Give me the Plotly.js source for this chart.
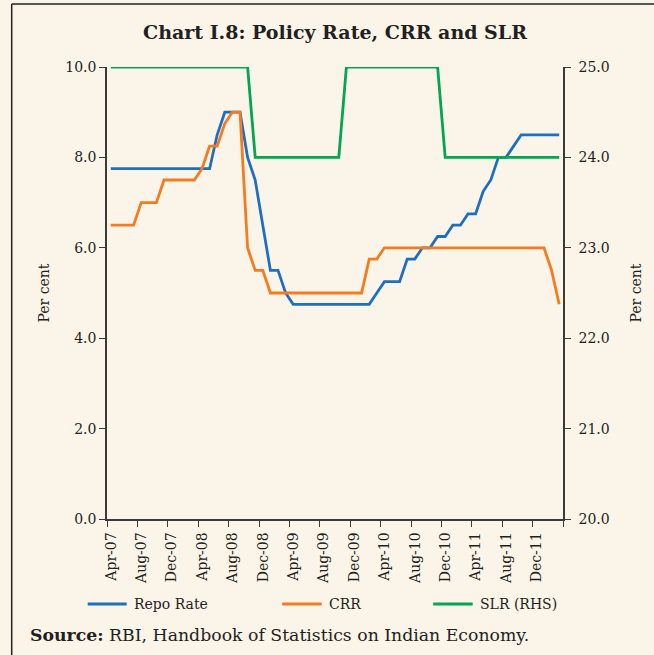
<!DOCTYPE html>
<html>
<head>
<meta charset="utf-8">
<script src="https://cdn.plot.ly/plotly-3.0.1.min.js"></script>
<style>
  html, body { margin: 0; padding: 0; background: #FBF4E9; }
  #chart { width: 654px; height: 655px; }
</style>
</head>
<body>
<div id="chart"></div>
<script>
// Months Apr-07 .. Mar-12
const months = [
  "Apr-07","May-07","Jun-07","Jul-07","Aug-07","Sep-07","Oct-07","Nov-07","Dec-07","Jan-08","Feb-08","Mar-08",
  "Apr-08","May-08","Jun-08","Jul-08","Aug-08","Sep-08","Oct-08","Nov-08","Dec-08","Jan-09","Feb-09","Mar-09",
  "Apr-09","May-09","Jun-09","Jul-09","Aug-09","Sep-09","Oct-09","Nov-09","Dec-09","Jan-10","Feb-10","Mar-10",
  "Apr-10","May-10","Jun-10","Jul-10","Aug-10","Sep-10","Oct-10","Nov-10","Dec-10","Jan-11","Feb-11","Mar-11",
  "Apr-11","May-11","Jun-11","Jul-11","Aug-11","Sep-11","Oct-11","Nov-11","Dec-11","Jan-12","Feb-12","Mar-12"
];

const repoRate = [
  7.75,7.75,7.75,7.75,7.75,7.75,7.75,7.75,7.75,7.75,7.75,7.75,
  7.75,7.75,8.5,9.0,9.0,9.0,8.0,7.5,6.5,5.5,5.5,5.0,
  4.75,4.75,4.75,4.75,4.75,4.75,4.75,4.75,4.75,4.75,4.75,5.0,
  5.25,5.25,5.25,5.75,5.75,6.0,6.0,6.25,6.25,6.5,6.5,6.75,
  6.75,7.25,7.5,8.0,8.0,8.25,8.5,8.5,8.5,8.5,8.5,8.5
];

const crr = [
  6.5,6.5,6.5,6.5,7.0,7.0,7.0,7.5,7.5,7.5,7.5,7.5,
  7.75,8.25,8.25,8.75,9.0,9.0,6.0,5.5,5.5,5.0,5.0,5.0,
  5.0,5.0,5.0,5.0,5.0,5.0,5.0,5.0,5.0,5.0,5.75,5.75,
  6.0,6.0,6.0,6.0,6.0,6.0,6.0,6.0,6.0,6.0,6.0,6.0,
  6.0,6.0,6.0,6.0,6.0,6.0,6.0,6.0,6.0,6.0,5.5,4.75
];

const slr = [
  25,25,25,25,25,25,25,25,25,25,25,25,
  25,25,25,25,25,25,25,24,24,24,24,24,
  24,24,24,24,24,24,24,25,25,25,25,25,
  25,25,25,25,25,25,25,25,24,24,24,24,
  24,24,24,24,24,24,24,24,24,24,24,24
];

const leftTicks = [0, 2, 4, 6, 8, 10];
const rightTicks = [20, 21, 22, 23, 24, 25];
const xTickLabels = ["Apr-07","Aug-07","Dec-07","Apr-08","Aug-08","Dec-08","Apr-09","Aug-09","Dec-09","Apr-10","Aug-10","Dec-10","Apr-11","Aug-11","Dec-11",""];

const xIdx = months.map((m, i) => i);
const xTickVals = xTickLabels.map((l, k) => k * 4 - 0.5);

const FONT = "DejaVu Serif, Liberation Serif, serif";
const TXT = "#231F20";
const BG = "#FBF4E9";
const AX = "#3a3a3a";

const colors = { repo: "#1F6FC0", crr: "#F47B20", slr: "#00A651" };

const traces = [
  { x: xIdx, y: repoRate, text: months, name: "Repo Rate", type: "scatter", mode: "lines",
    line: { color: colors.repo, width: 2.8 }, hovertemplate: "%{text}: %{y}<extra>Repo Rate</extra>" },
  { x: xIdx, y: crr, text: months, name: "CRR", type: "scatter", mode: "lines",
    line: { color: colors.crr, width: 2.8 }, hovertemplate: "%{text}: %{y}<extra>CRR</extra>" },
  { x: xIdx, y: slr, text: months, name: "SLR (RHS)", type: "scatter", mode: "lines", yaxis: "y2",
    line: { color: colors.slr, width: 2.8 }, hovertemplate: "%{text}: %{y}<extra>SLR</extra>" }
];

// legend drawn manually to match positions
const W = 456, H = 452, L = 107.3, B = 519;
const px = v => (v - L) / W;
const py = v => (B - v) / H;

const legendItems = [
  { name: "Repo Rate", color: colors.repo, x0: 88, x1: 127, tx: 132 },
  { name: "CRR", color: colors.crr, x0: 282.5, x1: 322, tx: 327 },
  { name: "SLR (RHS)", color: colors.slr, x0: 433.5, x1: 473, tx: 478 }
];

const shapes = [
  // outer frame: left and top lines
  { type: "line", xref: "paper", yref: "paper", x0: px(12), x1: px(12), y0: py(4), y1: py(700),
    line: { color: "#222", width: 1.5 } },
  { type: "line", xref: "paper", yref: "paper", x0: px(12), x1: px(700), y0: py(4), y1: py(4),
    line: { color: "#222", width: 1.5 } }
];
legendItems.forEach(it => shapes.push({
  type: "line", xref: "paper", yref: "paper", x0: px(it.x0), x1: px(it.x1), y0: py(604), y1: py(604),
  line: { color: it.color, width: 2.8 }
}));

const annotations = legendItems.map(it => ({
  xref: "paper", yref: "paper", x: px(it.tx), y: py(604), xanchor: "left", yanchor: "middle",
  text: it.name, showarrow: false, font: { family: FONT, size: 14, color: TXT }
}));
annotations.push({
  xref: "paper", yref: "paper", x: px(28.5), y: py(635), xanchor: "left", yanchor: "middle",
  text: "<b>Source:</b> RBI, Handbook of Statistics on Indian Economy.", showarrow: false,
  font: { family: FONT, size: 17.3, color: TXT }
});

const layout = {
  width: 654, height: 655,
  margin: { l: 107.3, r: 90.7, t: 67, b: 136 },
  paper_bgcolor: BG, plot_bgcolor: BG,
  showlegend: false,
  title: { text: "<b>Chart I.8: Policy Rate, CRR and SLR</b>", x: 0.5, xref: "paper", xanchor: "center",
    y: 0.951, yref: "container", yanchor: "middle", font: { family: FONT, size: 19, color: TXT } },
  xaxis: {
    range: [-0.5, 59.5], tickmode: "array", tickvals: xTickVals, ticktext: xTickLabels,
    tickangle: -90, ticklabelshift: 4, ticks: "outside", ticklen: 6, tickcolor: AX, tickwidth: 1.3,
    showline: true, linecolor: AX, linewidth: 1.5, showgrid: false, zeroline: false,
    tickfont: { family: FONT, size: 14, color: TXT }
  },
  yaxis: {
    range: [0, 10], tickmode: "array", tickvals: leftTicks, tickformat: ".1f",
    ticks: "outside", ticklen: 6, tickcolor: AX, tickwidth: 1.3,
    showline: true, linecolor: AX, linewidth: 1.5, showgrid: false, zeroline: false,
    tickfont: { family: FONT, size: 14, color: TXT },
    title: { text: "Per cent", standoff: 12, font: { family: FONT, size: 14, color: TXT } }
  },
  yaxis2: {
    range: [20, 25], tickmode: "array", tickvals: rightTicks, tickformat: ".1f",
    overlaying: "y", side: "right", ticklabelstandoff: 5,
    ticks: "outside", ticklen: 6, tickcolor: AX, tickwidth: 1.3,
    showline: true, linecolor: AX, linewidth: 1.5, showgrid: false, zeroline: false,
    tickfont: { family: FONT, size: 14, color: TXT },
    title: { text: "Per cent", standoff: 22, font: { family: FONT, size: 14, color: TXT } }
  },
  shapes: shapes,
  annotations: annotations
};

Plotly.newPlot("chart", traces, layout, { displayModeBar: false, staticPlot: false });
</script>
</body>
</html>
